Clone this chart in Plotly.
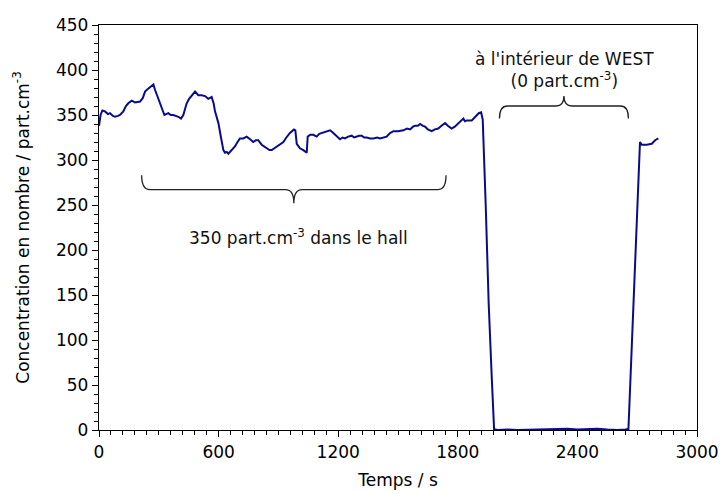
import plotly.graph_objects as go

# ---- data ----
time_s = [0, 8, 17, 30, 45, 55, 70, 80, 95, 105, 122, 135, 147, 164, 181, 195, 206, 220, 231, 245,
          256, 273, 281, 295, 306, 318, 328, 348, 360, 373, 385, 398, 411, 423, 432, 440, 452, 465,
          482, 498, 515, 532, 548, 565, 575, 582, 592, 599, 612, 624, 632, 641, 649, 658, 666, 682,
          695, 707, 724, 741, 758, 774, 787, 799, 816, 830, 841, 855, 867, 880, 892, 910, 925, 940,
          958, 978, 985, 992, 1008, 1025, 1042, 1047, 1060, 1075, 1092, 1105, 1117, 1134, 1159, 1170,
          1184, 1195, 1209, 1222, 1234, 1250, 1268, 1280, 1293, 1305, 1318, 1330, 1343, 1360, 1377,
          1395, 1410, 1425, 1443, 1460, 1477, 1500, 1527, 1545, 1561, 1575, 1586, 1600, 1611, 1625,
          1636, 1650, 1669, 1685, 1702, 1718, 1736, 1750, 1769, 1785, 1794, 1811, 1828, 1836, 1845,
          1870, 1878, 1895, 1905, 1917, 1925, 1940, 1955, 1970, 1982, 2000, 2050, 2100, 2150, 2200,
          2250, 2300, 2350, 2400, 2450, 2500, 2550, 2600, 2640, 2656, 2685, 2714, 2723, 2748, 2773,
          2790, 2806]
concentration = [338, 350, 355, 354, 351, 352, 349, 348, 349, 350, 354, 360, 363, 366, 364, 365, 365,
                 369, 376, 379, 381, 384, 378, 369, 363, 355, 350, 352, 350, 350, 349, 348, 346, 350,
                 357, 363, 368, 372, 376, 372, 372, 371, 368, 370, 363, 354, 346, 341, 325, 311, 308,
                 309, 307, 309, 311, 315, 320, 324, 324, 326, 323, 320, 322, 322, 317, 315, 313, 311,
                 311, 313, 315, 318, 320, 325, 330, 334, 333, 318, 313, 311, 308, 326, 328, 328, 326,
                 329, 330, 331, 333, 331, 328, 325, 323, 325, 324, 326, 327, 325, 326, 327, 327, 325,
                 325, 324, 324, 325, 324, 325, 326, 330, 332, 332, 333, 335, 334, 337, 338, 338, 340,
                 338, 337, 334, 332, 334, 335, 338, 341, 338, 335, 337, 339, 342, 346, 343, 344, 344,
                 346, 350, 352, 353, 345, 250, 140, 60, 1, 0, 0.5, 0, 0.3, 0, 0.5, 1, 1.5, 0.5, 1, 1.5,
                 0.5, 0, 0.5, 1, 160, 320, 317, 317, 318, 322, 324]

x_ticks = [0, 600, 1200, 1800, 2400, 3000]
y_ticks = [0, 50, 100, 150, 200, 250, 300, 350, 400, 450]

label_hall = "350 part.cm<sup>-3</sup> dans le hall"
label_west = "à l'intérieur de WEST<br>(0 part.cm<sup>-3</sup>)"

FONT = "DejaVu Sans"
FS = 17

fig = go.Figure()
fig.add_trace(go.Scatter(x=time_s, y=concentration, mode="lines",
                         line=dict(color="#0a0a8c", width=2), showlegend=False))


def brace_down(x0, x1, y_end, y_mid, y_tip, r):
    xc = (x0 + x1) / 2
    return (f"M {x0},{y_end} Q {x0},{y_mid} {x0 + r},{y_mid} L {xc - r},{y_mid} "
            f"Q {xc},{y_mid} {xc},{y_tip} Q {xc},{y_mid} {xc + r},{y_mid} "
            f"L {x1 - r},{y_mid} Q {x1},{y_mid} {x1},{y_end}")


fig.add_shape(type="path", xref="x", yref="y",
              path=brace_down(214, 1741, 283, 267, 252, 42),
              line=dict(color="#222222", width=1.3))
fig.add_shape(type="path", xref="x", yref="y",
              path=brace_down(2009, 2656, 346, 360, 371, 40),
              line=dict(color="#222222", width=1.3))

fig.add_annotation(x=1000, y=214, xref="x", yref="y", text=label_hall, showarrow=False,
                   font=dict(family=FONT, size=FS, color="#111111"))
fig.add_annotation(x=2333, y=400, xref="x", yref="y", text=label_west, showarrow=False,
                   font=dict(family=FONT, size=FS, color="#111111"))

axis_common = dict(showline=True, linecolor="black", linewidth=1.3, mirror=True,
                   showgrid=False, zeroline=False, ticks="outside", tickcolor="black",
                   ticklen=6, tickwidth=1.3, automargin=False,
                   tickfont=dict(family=FONT, size=FS, color="black"))

fig.update_xaxes(range=[0, 3000], tickvals=x_ticks, ticktext=[str(v) for v in x_ticks],
                 minor=dict(dtick=60, tick0=0, ticks="outside", ticklen=4, tickcolor="black",
                            tickwidth=1.2),
                 title=dict(text="Temps / s", font=dict(family=FONT, size=FS, color="black"),
                            standoff=13),
                 **axis_common)
fig.update_yaxes(range=[0, 450], tickvals=y_ticks, ticktext=[str(v) for v in y_ticks],
                 minor=dict(dtick=10, tick0=0, ticks="outside", ticklen=4, tickcolor="black",
                            tickwidth=1.2),
                 title=dict(text="Concentration en nombre / part.cm<sup>-3</sup>",
                            font=dict(family=FONT, size=17, color="black"), standoff=22),
                 **axis_common)

fig.update_layout(width=720, height=491, paper_bgcolor="white", plot_bgcolor="white",
                  margin=dict(l=99, r=23, t=25, b=61),
                  font=dict(family=FONT, size=FS, color="black"))

fig.write_html("out.html", config={"displayModeBar": False},
               post_script="document.body.style.margin='0';document.body.style.overflow='hidden';")
